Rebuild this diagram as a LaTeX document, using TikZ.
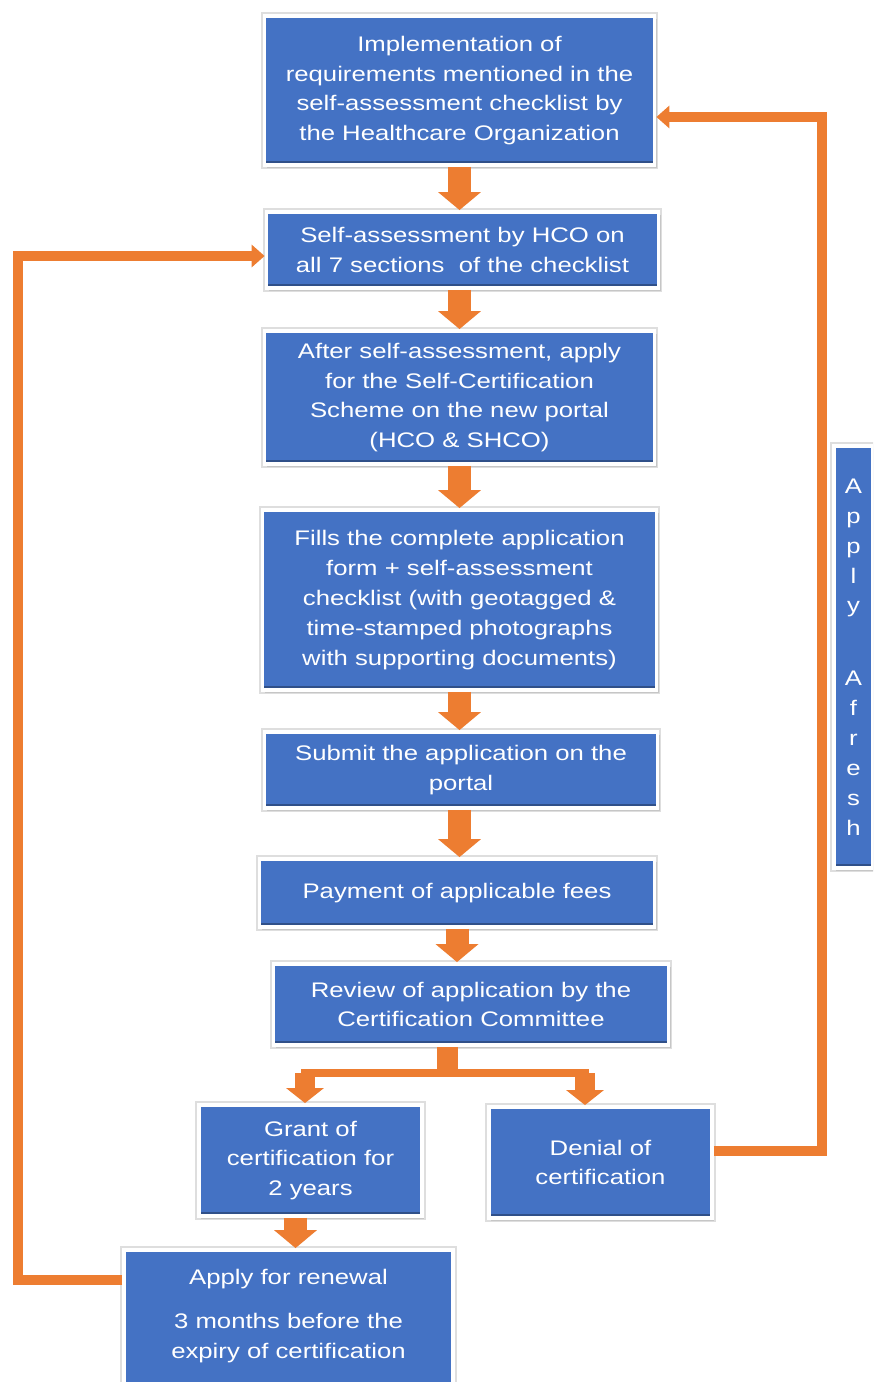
\documentclass[tikz,border=0pt]{standalone}
\usepackage{fontspec}
\setmainfont{Liberation Sans}[FakeStretch=1.22]
\usetikzlibrary{arrows.meta,shadows}
\definecolor{boxblue}{HTML}{4472C4}
\definecolor{arrorange}{HTML}{ED7D31}
\tikzset{
    stepbox/.style={fill=boxblue, draw=white, line width=2.2pt, text=white, align=center,
        inner sep=2pt, font=\fontsize{12}{17}\selectfont,
        preaction={draw=black!13, line width=4.2pt},
        drop shadow={shadow xshift=1.2pt, shadow yshift=-1.6pt, opacity=0.25},
        path picture={\fill[boxblue!70!black] (path picture bounding box.south west)
            rectangle ([yshift=2pt]path picture bounding box.south east);}},
    blkarrow/.style={draw=arrorange, line width=0.46cm, -{Triangle[width=0.84cm,length=0.36cm]}},
    smallarrow/.style={draw=arrorange, line width=0.4cm, -{Triangle[width=0.74cm,length=0.3cm]}},
    looparrow/.style={draw=arrorange, line width=0.2cm, line join=miter, -{Triangle[width=0.44cm,length=0.26cm]}}
}
\begin{document}
\begin{tikzpicture}[x=0.02cm,y=-0.02cm]
            \clip (0,0) rectangle (873,1382);
            \fill[white] (0,0) rectangle (873,1382);
            \node[stepbox, minimum width=7.8cm, minimum height=2.98cm] (impl) at (459.5,90.5)
                {Implementation of\\requirements mentioned in the\\self-assessment checklist by\\the Healthcare Organization};
            \node[stepbox, minimum width=7.84cm, minimum height=1.52cm] (selfass) at (462.5,250)
                {Self-assessment by HCO on\\all 7 sections\ \ of the checklist};
            \node[stepbox, minimum width=7.8cm, minimum height=2.66cm] (apply) at (459.5,397.5)
                {After self-assessment, apply\\for the Self-Certification\\Scheme on the new portal\\(HCO \& SHCO)};
            \node[stepbox, minimum width=7.88cm, minimum height=3.6cm] (fills) at (459.5,600)
                {Fills the complete application\\form + self-assessment\\checklist (with geotagged \&\\time-stamped photographs\\with supporting documents)};
            \node[stepbox, minimum width=7.86cm, minimum height=1.52cm] (submit) at (461,770)
                {Submit the application on the\\portal};
            \node[stepbox, minimum width=7.9cm, minimum height=1.36cm] (payment) at (457,893)
                {Payment of applicable fees};
            \node[stepbox, minimum width=7.9cm, minimum height=1.62cm] (review) at (471,1004.5)
                {Review of application by the\\Certification Committee};
            \node[stepbox, minimum width=4.46cm, minimum height=2.22cm] (grant) at (310.5,1160.5)
                {Grant of\\certification for\\2 years};
            \node[stepbox, minimum width=4.46cm, minimum height=2.22cm] (denial) at (600.5,1162.5)
                {Denial of\\certification};
            \node[stepbox, minimum width=6.58cm, minimum height=2.8cm] (renewal) at (288.5,1320)
                {Apply for renewal\\[0.3cm]3 months before the\\expiry of certification\\[-0.35cm]};
            \node[stepbox, minimum width=0.78cm, minimum height=8.44cm, inner sep=0pt] (afresh) at (853.5,657)
                {A\\p\\p\\l\\y\\[0.86cm]A\\f\\r\\e\\s\\h};
            \draw[blkarrow] (impl.south) -- (impl.south |- selfass.north);
            \draw[blkarrow] (selfass.south -| impl.south) -- (impl.south |- apply.north);
            \draw[blkarrow] (apply.south) -- (apply.south |- fills.north);
            \draw[blkarrow] (fills.south) -- (fills.south |- submit.north);
            \draw[blkarrow] (submit.south -| fills.south) -- (fills.south |- payment.north);
            \draw[blkarrow] (payment.south) -- (payment.south |- review.north);
            \coordinate (split) at (447,1073);
            \coordinate (splitL) at (305,1073);
            \coordinate (splitR) at (585,1073);
            \draw[draw=arrorange, line width=0.42cm] (split |- review.south) -- ([yshift=-0.08cm]split);
            \draw[draw=arrorange, line width=0.16cm] ([xshift=-0.08cm]splitL) -- ([xshift=0.08cm]splitR);
            \draw[smallarrow] (splitL) -- (splitL |- grant.north);
            \draw[smallarrow] (splitR) -- (splitR |- denial.north);
            \draw[blkarrow] ([xshift=-0.3cm]grant.south) -- ([xshift=-0.3cm]grant.south |- renewal.north);
            \coordinate (leftrail) at (18,700);
            \coordinate (rightrail) at (822,700);
            \draw[looparrow] ([yshift=0.8cm]renewal.west) -| (leftrail) |- ([yshift=-0.12cm]selfass.west);
            \draw[looparrow] ([yshift=0.24cm]denial.east) -| (rightrail) |- ([yshift=-0.53cm]impl.east);
        \end{tikzpicture}
\end{document}
